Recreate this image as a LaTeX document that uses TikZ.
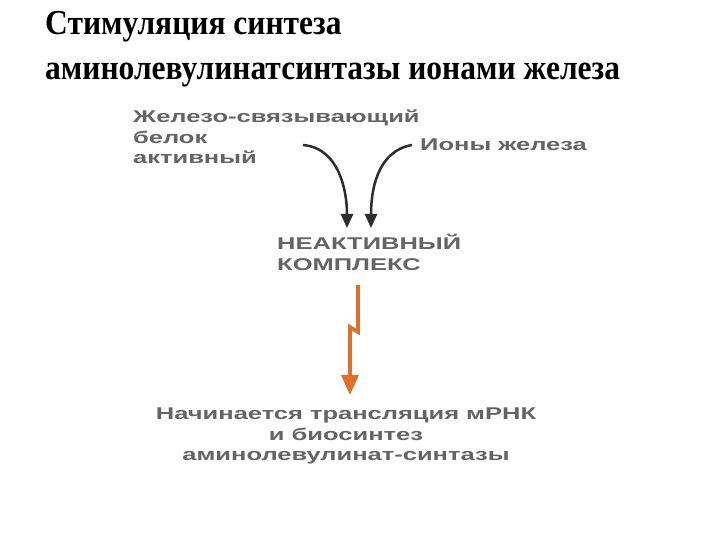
\documentclass[tikz,border=0pt]{standalone}
\usepackage{fontspec}
\setmainfont{Liberation Serif}
\newfontfamily\ttlfont[FakeStretch=0.9]{Liberation Serif}
\newfontfamily\diagfont[FakeStretch=1.5]{Liberation Sans}
\usetikzlibrary{arrows.meta,calc}

\definecolor{txtgray}{RGB}{100,100,100}
\definecolor{arrorange}{RGB}{226,110,44}
\definecolor{arrdark}{RGB}{45,45,45}

\begin{document}
\begin{tikzpicture}[
  x=1pt, y=-1pt,
  ttl/.style={font=\ttlfont\fontsize{35}{45}\selectfont\bfseries, align=left, inner sep=0pt, anchor=north west},
  lbl/.style={font=\diagfont\bfseries\fontsize{17}{20.5}\selectfont, text=txtgray, inner sep=0pt},
  curv/.style={-{Triangle[length=14pt,width=12pt]}, line width=2.5pt, draw=arrdark},
  signal/.style={-{Triangle[length=20pt,width=17pt]}, line width=3.6pt, draw=arrorange, line join=miter},
]
\useasboundingbox[fill=white] (0,0) rectangle (720,540);

% ---------------- title ----------------
\node[ttl] (title) at (45,11)
  {Стимуляция синтеза\\ аминолевулинатсинтазы ионами железа};

% ---------------- inputs ----------------
\node[lbl, align=left, anchor=north west] (febp) at (133,110)
  {Железо-связывающий\\ белок\\ активный};
\node[lbl, anchor=west] (ions) at (420,145) {Ионы железа};

% ---------------- complex ----------------
\node[lbl, align=left, anchor=north west] (cplx) at (277,234)
  {НЕАКТИВНЫЙ\\ КОМПЛЕКС};

\coordinate (s1) at (303,145);
\coordinate (s2) at ($(ions.west)+(-8,0)$);
\coordinate (t1) at ($(cplx.north west)+(70,-6)$);
\coordinate (t2) at ($(cplx.north west)+(94,-6)$);
\draw[curv] (s1) to[out=-5, in=90] (t1);
\draw[curv] (s2) to[out=190, in=90] (t2);

% ---------------- result ----------------
\node[lbl, align=center, anchor=north] (result) at (346,408)
  {Начинается трансляция мРНК\\ и биосинтез\\ аминолевулинат-синтазы};

\coordinate (o1) at ($(cplx.north west)+(81,51)$);
\coordinate (o2) at ($(result.north -| o1)+(-8,-13)$);
\draw[signal] (o1) -- ++(0,47) -- ++(-8,-5) -- (o2);

\end{tikzpicture}
\end{document}
